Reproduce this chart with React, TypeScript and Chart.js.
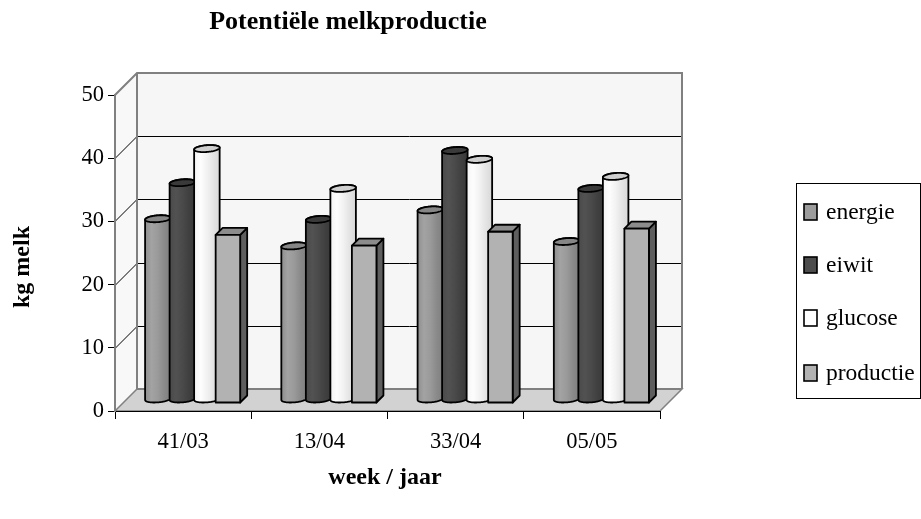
import React, { useEffect, useRef } from 'react';
import { Chart, registerables } from 'chart.js';

Chart.register(...registerables);

// Weeks (week/year) on the category axis
const weeks = ['41/03', '13/04', '33/04', '05/05'];

// Potential milk yield per limiting factor, kg milk
const energie = [28.6, 24.3, 30.0, 25.0];
const eiwit = [34.3, 28.5, 39.4, 33.4];
const glucose = [39.7, 33.4, 38.0, 35.3];
const productie = [26.6, 24.9, 27.1, 27.6];

const seriesNames = ['energie', 'eiwit', 'glucose', 'productie'];
const seriesData = [energie, eiwit, glucose, productie];

// Value axis range
const yMin = 0;
const yMax = 50;
const yStep = 10;

const SERIF = '"Liberation Serif", "Times New Roman", Times, serif';

// Oblique 3D geometry (45° receding depth)
const WALL_DEPTH = 22;
const BAR_OFFSET = 8;
const BAR_DEPTH = 7;

type Look = {
  shape: 'cylinder' | 'box';
  stops: string[];
  top: string;
  side: string;
  swatch: string;
};

const looks: Look[] = [
  { shape: 'cylinder', stops: ['#8e8e8e', '#a3a3a3', '#9a9a9a', '#8a8a8a', '#7e7e7e'], top: '#868686', side: '#6e6e6e', swatch: '#9c9c9c' },
  { shape: 'cylinder', stops: ['#4a4a4a', '#525252', '#4a4a4a', '#404040', '#383838'], top: '#3a3a3a', side: '#2e2e2e', swatch: '#4c4c4c' },
  { shape: 'cylinder', stops: ['#f4f4f4', '#fdfdfd', '#f2f2f2', '#e4e4e4', '#d8d8d8'], top: '#cfcfcf', side: '#bdbdbd', swatch: '#ffffff' },
  { shape: 'box', stops: ['#b2b2b2'], top: '#8c8c8c', side: '#5e5e5e', swatch: '#b2b2b2' },
];

function poly(ctx: CanvasRenderingContext2D, pts: number[][]) {
  ctx.beginPath();
  ctx.moveTo(pts[0][0], pts[0][1]);
  for (let i = 1; i < pts.length; i++) ctx.lineTo(pts[i][0], pts[i][1]);
  ctx.closePath();
}

function drawBox(ctx: CanvasRenderingContext2D, x0: number, x1: number, yt: number, yb: number, d: number, look: Look) {
  ctx.lineJoin = 'round';
  ctx.lineWidth = 1.8;
  ctx.strokeStyle = '#000';
  // right side
  poly(ctx, [[x1, yb], [x1 + d, yb - d], [x1 + d, yt - d], [x1, yt]]);
  ctx.fillStyle = look.side;
  ctx.fill();
  ctx.stroke();
  // top
  poly(ctx, [[x0, yt], [x0 + d, yt - d], [x1 + d, yt - d], [x1, yt]]);
  ctx.fillStyle = look.top;
  ctx.fill();
  ctx.stroke();
  // front
  ctx.beginPath();
  ctx.rect(x0, yt, x1 - x0, yb - yt);
  ctx.fillStyle = look.stops[0];
  ctx.fill();
  ctx.stroke();
}

function drawCylinder(ctx: CanvasRenderingContext2D, x0: number, x1: number, yt: number, yb: number, d: number, look: Look) {
  const cx = (x0 + x1) / 2;
  const r = (x1 - x0) / 2;
  const h = d / 2;
  const pt = (th: number, yc: number) => [
    cx + h + r * Math.cos(th) + h * Math.sin(th),
    yc - h - h * Math.sin(th),
  ];
  const thm = Math.atan2(h, r);
  const steps = 40;
  ctx.lineJoin = 'round';
  ctx.lineWidth = 1.8;
  ctx.strokeStyle = '#000';

  // body silhouette
  ctx.beginPath();
  for (let i = 0; i <= steps; i++) {
    const th = thm + Math.PI + (Math.PI * i) / steps;
    const p = pt(th, yb);
    if (i === 0) ctx.moveTo(p[0], p[1]);
    else ctx.lineTo(p[0], p[1]);
  }
  for (let i = 0; i <= steps; i++) {
    const th = thm + (Math.PI * i) / steps;
    const p = pt(th, yt);
    ctx.lineTo(p[0], p[1]);
  }
  ctx.closePath();
  const left = pt(thm + Math.PI, yb)[0];
  const right = pt(thm, yb)[0];
  const g = ctx.createLinearGradient(left, 0, right, 0);
  look.stops.forEach((c, i) => g.addColorStop(i / (look.stops.length - 1), c));
  ctx.fillStyle = g;
  ctx.fill();
  ctx.stroke();

  // top cap
  ctx.beginPath();
  for (let i = 0; i <= steps * 2; i++) {
    const th = (Math.PI * i) / steps;
    const p = pt(th, yt);
    if (i === 0) ctx.moveTo(p[0], p[1]);
    else ctx.lineTo(p[0], p[1]);
  }
  ctx.closePath();
  ctx.fillStyle = look.top;
  ctx.fill();
  ctx.stroke();
}

const scene3d = {
  id: 'scene3d',
  beforeDraw(chart: any) {
    const { ctx, chartArea: a } = chart;
    const ys = chart.scales.y;
    const D = WALL_DEPTH;
    ctx.save();
    // side wall
    poly(ctx, [[a.left, a.bottom], [a.left + D, a.bottom - D], [a.left + D, a.top - D], [a.left, a.top]]);
    ctx.fillStyle = '#f8f8f8';
    ctx.fill();
    // back wall
    ctx.fillStyle = '#f6f6f6';
    ctx.fillRect(a.left + D, a.top - D, a.right - a.left, a.bottom - a.top);
    // floor
    poly(ctx, [[a.left, a.bottom], [a.right, a.bottom], [a.right + D, a.bottom - D], [a.left + D, a.bottom - D]]);
    ctx.fillStyle = '#d2d2d2';
    ctx.fill();

    // gridlines on the back and side walls
    ctx.strokeStyle = '#000';
    ctx.lineWidth = 1;
    ys.ticks.forEach((t: any) => {
      if (t.value <= yMin || t.value >= yMax) return;
      const py = Math.round(ys.getPixelForValue(t.value)) + 0.5;
      ctx.beginPath();
      ctx.moveTo(a.left, py);
      ctx.lineTo(a.left + D, py - D);
      ctx.lineTo(a.right + D, py - D);
      ctx.stroke();
    });

    // wall and floor outlines
    ctx.strokeStyle = '#808080';
    ctx.lineWidth = 2;
    ctx.beginPath();
    ctx.moveTo(a.left, a.top);
    ctx.lineTo(a.left + D, a.top - D);
    ctx.lineTo(a.right + D, a.top - D);
    ctx.lineTo(a.right + D, a.bottom - D);
    ctx.stroke();
    ctx.beginPath();
    ctx.moveTo(a.left + D, a.top - D);
    ctx.lineTo(a.left + D, a.bottom - D);
    ctx.lineTo(a.right + D, a.bottom - D);
    ctx.stroke();
    poly(ctx, [[a.left, a.bottom], [a.right, a.bottom], [a.right + D, a.bottom - D], [a.left + D, a.bottom - D]]);
    ctx.lineWidth = 1.5;
    ctx.stroke();
    ctx.restore();
  },
  afterDatasetsDraw(chart: any) {
    const ctx = chart.ctx;
    ctx.save();
    const n = chart.data.labels.length;
    for (let i = 0; i < n; i++) {
      chart.data.datasets.forEach((_: any, s: number) => {
        const el = chart.getDatasetMeta(s).data[i];
        const { x, y, base, width } = el.getProps(['x', 'y', 'base', 'width'], true);
        const x0 = x - width / 2 + BAR_OFFSET;
        const x1 = x + width / 2 + BAR_OFFSET;
        const yt = y - BAR_OFFSET;
        const yb = base - BAR_OFFSET;
        const look = looks[s];
        if (look.shape === 'box') drawBox(ctx, x0, x1, yt, yb, BAR_DEPTH, look);
        else drawCylinder(ctx, x0, x1, yt, yb, BAR_DEPTH, look);
      });
    }
    ctx.restore();
  },
  afterDraw(chart: any) {
    const ctx = chart.ctx;
    ctx.save();
    ctx.fillStyle = '#000';
    ctx.textAlign = 'center';
    ctx.textBaseline = 'middle';

    // chart title
    ctx.font = `bold 26px ${SERIF}`;
    ctx.fillText('Potentiële melkproductie', 348, 22);

    // axis titles
    ctx.font = `bold 24px ${SERIF}`;
    ctx.fillText('week / jaar', 385, 478);
    ctx.save();
    ctx.translate(23, 267);
    ctx.rotate(-Math.PI / 2);
    ctx.fillText('kg melk', 0, 0);
    ctx.restore();

    // legend
    ctx.strokeStyle = '#000';
    ctx.lineWidth = 1;
    ctx.strokeRect(796.5, 183.5, 124, 215);
    const rows = [212, 265, 318, 373];
    ctx.textAlign = 'left';
    ctx.font = `23.5px ${SERIF}`;
    seriesNames.forEach((name, s) => {
      const cy = rows[s];
      ctx.fillStyle = looks[s].swatch;
      ctx.fillRect(804, cy - 8, 13, 16);
      ctx.lineWidth = 1.6;
      ctx.strokeRect(804, cy - 8, 13, 16);
      ctx.fillStyle = '#000';
      ctx.fillText(name, 826, cy + 1);
    });
    ctx.restore();
  },
};

export default function App() {
  const ref = useRef<HTMLCanvasElement | null>(null);

  useEffect(() => {
    if (!ref.current) return;
    const chart = new Chart(ref.current, {
      type: 'bar',
      data: {
        labels: weeks,
        datasets: seriesNames.map((name, s) => ({
          label: name,
          data: seriesData[s],
          backgroundColor: 'rgba(0,0,0,0)',
          borderWidth: 0,
        })),
      },
      options: {
        responsive: false,
        animation: false,
        devicePixelRatio: 1,
        layout: { padding: { top: 95, right: 261, left: 0, bottom: 0 } },
        datasets: { bar: { categoryPercentage: 0.72, barPercentage: 1 } },
        plugins: {
          legend: { display: false },
          tooltip: { enabled: false },
          title: { display: false },
        },
        scales: {
          x: {
            type: 'category',
            offset: true,
            grid: { offset: true, drawOnChartArea: false, drawTicks: true, tickLength: 8, color: '#000' },
            border: { color: '#000', width: 1 },
            ticks: { font: { family: SERIF, size: 22.5 }, color: '#000', padding: 10, maxRotation: 0 },
            afterFit: (s: any) => { s.height = 108; },
          },
          y: {
            min: yMin,
            max: yMax,
            ticks: { stepSize: yStep, font: { family: SERIF, size: 22.5 }, color: '#000', padding: 4 },
            grid: { drawOnChartArea: false, drawTicks: true, tickLength: 7, color: '#000' },
            border: { color: '#808080', width: 2 },
            afterFit: (s: any) => { s.width = 115; },
          },
        },
      },
      plugins: [scene3d],
    });
    return () => chart.destroy();
  }, []);

  return (
    <div style={{ position: 'absolute', left: 0, top: 0, width: 921, height: 519, overflow: 'hidden', background: '#fff' }}>
      <canvas ref={ref} width={921} height={519} style={{ display: 'block' }} />
    </div>
  );
}
